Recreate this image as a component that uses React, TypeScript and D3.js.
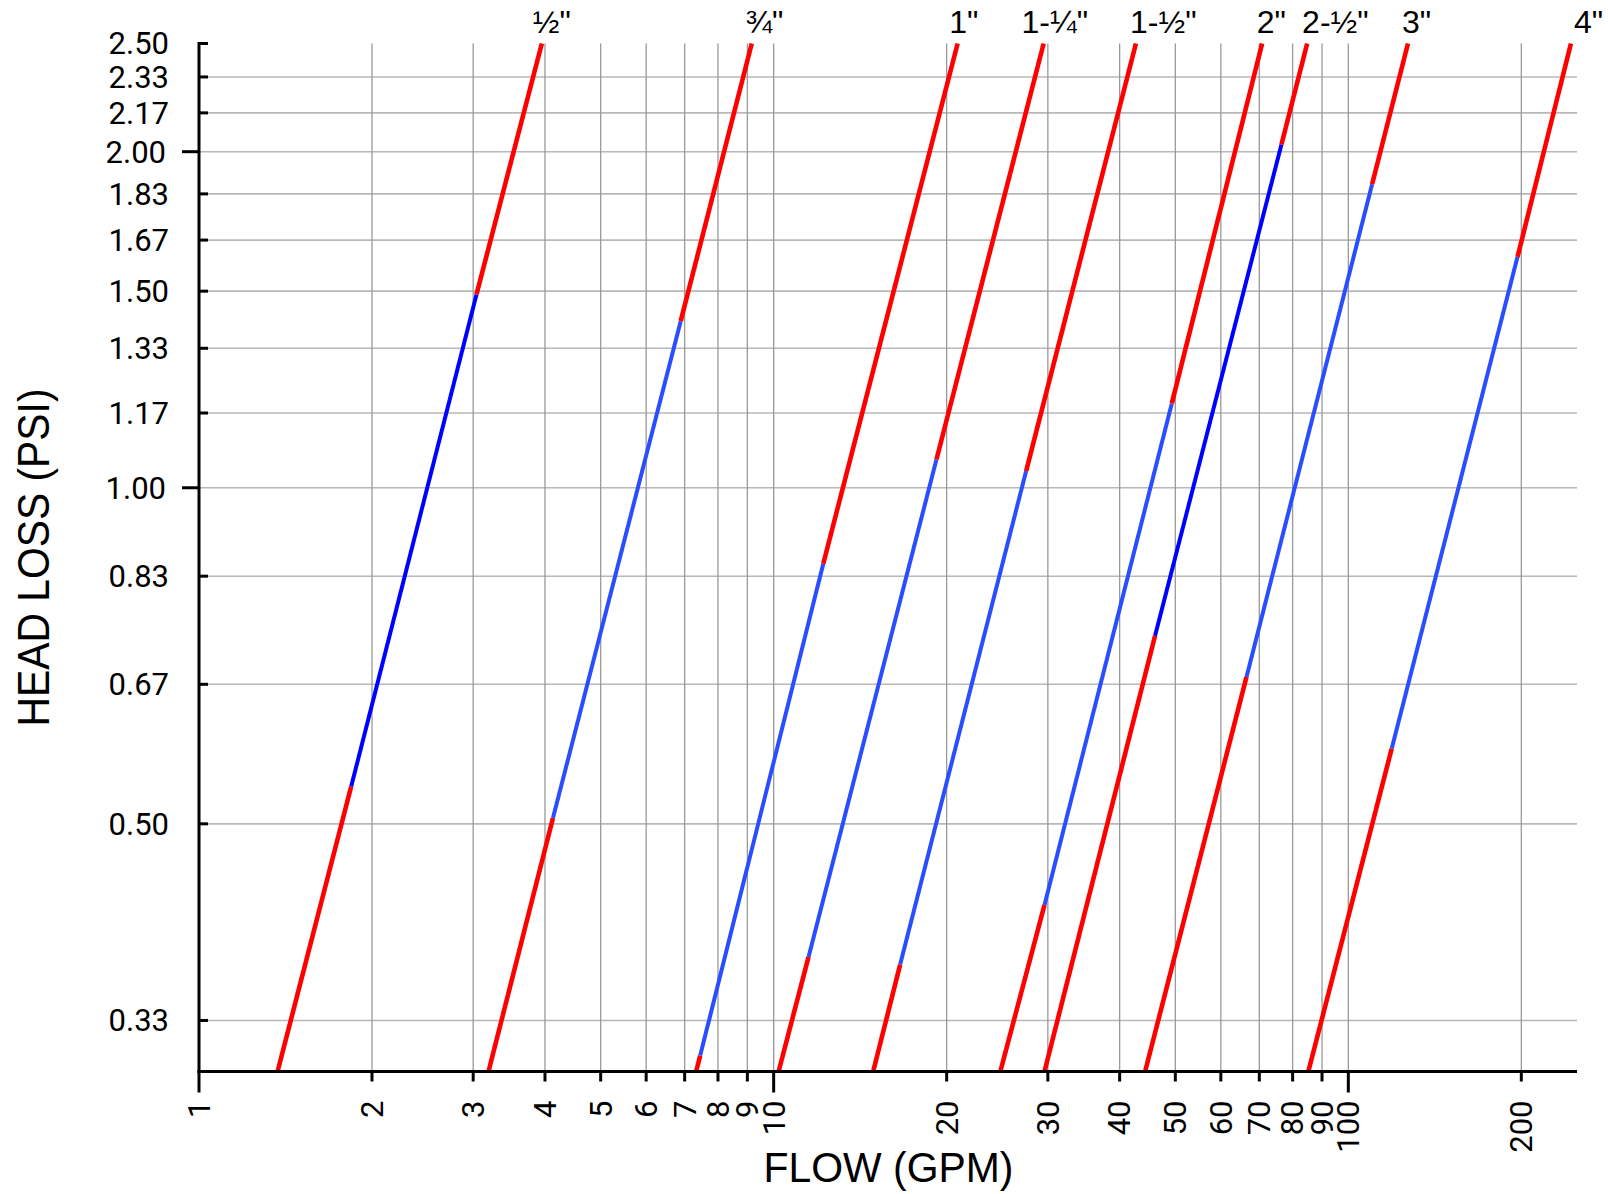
import React from "react";
import * as d3 from "d3";

const pipeSizes = ['½"', '¾"', '1"', '1-¼"', '1-½"', '2"', '2-½"', '3"', '4"'];

// Breakpoints along each pipe line: [flow GPM, head loss PSI]
const pipeHalf = [[1.37, 0.3], [1.84, 0.54], [3.04, 1.49], [3.95, 2.5]];
const pipeThreeQuarter = [[3.19, 0.3], [4.13, 0.506], [6.89, 1.41], [9.16, 2.5]];
const pipeOne = [[7.33, 0.3], [7.45, 0.31], [12.2, 0.855], [20.9, 2.5]];
const pipeOneQuarter = [[10.2, 0.3], [11.5, 0.38], [19.2, 1.06], [29.5, 2.5]];
const pipeOneHalf = [[14.9, 0.3], [16.6, 0.374], [27.5, 1.035], [42.7, 2.5]];
const pipeTwo = [[24.8, 0.3], [29.6, 0.423], [49.3, 1.19], [70.8, 2.5]];
const pipeTwoHalf = [[29.6, 0.3], [46.1, 0.737], [76.5, 2.03], [84.8, 2.5]];
const pipeThree = [[44.3, 0.3], [66.5, 0.677], [110, 1.87], [127, 2.5]];
const pipeFour = [[85.2, 0.3], [119, 0.584], [197, 1.61], [244, 2.5]];

// Segment zones between breakpoints: 0 = red, 1 = blue
const segmentZones = [0, 1, 0];
// which blue shade each pipe uses
const blueShade = [0, 1, 1, 1, 1, 1, 0, 1, 1];

// flow where each pipe label starts
const labelFlow = [3.81, 8.93, 20.2, 27.0, 41.7, 69.3, 83.1, 124, 247];

const xTicks = [1, 2, 3, 4, 5, 6, 7, 8, 9, 10, 20, 30, 40, 50, 60, 70, 80, 90, 100, 200];
const xMajor = [1, 10, 100];
const yTicks = [0.3333, 0.5, 0.6667, 0.8333, 1, 1.1667, 1.3333, 1.5, 1.6667, 1.8333, 2, 2.1667, 2.3333, 2.5];
const yTickLabels = ["0.33", "0.50", "0.67", "0.83", "1.00", "1.17", "1.33", "1.50", "1.67", "1.83", "2.00", "2.17", "2.33", "2.50"];
const yMajor = [1, 2];

const pipes = [pipeHalf, pipeThreeQuarter, pipeOne, pipeOneQuarter, pipeOneHalf, pipeTwo, pipeTwoHalf, pipeThree, pipeFour];

const W = 1608;
const H = 1194;
const L = 199, R = 1577, T = 43.5, B = 1071.5;

export default function App() {
  const x = d3.scaleLog().domain([1, 250]).range([L, R]);
  const y = d3.scaleLog().domain([0.3, 2.5]).range([B, T]);
  const line = d3.line<number[]>().x((d) => x(d[0])).y((d) => y(d[1]));
  const red = "#ff0000";
  const blues = ["#0000ff", "#2a4dff"];
  const tickFont = "Roboto, 'Noto Sans', sans-serif";
  const labelFont = "'Liberation Sans', Arial, sans-serif";

  return (
    <svg width={W} height={H} style={{ position: "absolute", left: 0, top: 0, background: "#fff" }}>
      {/* grid */}
      <g>
        {yTicks.filter((v) => v < 2.4).map((v, i) => (
          <line key={"hy" + i} x1={L} x2={R} y1={y(v)} y2={y(v)} stroke="#b8b8b8" strokeWidth={1.6} />
        ))}
        {xTicks.filter((v) => v > 1).map((v, i) => (
          <line key={"vx" + i} x1={x(v)} x2={x(v)} y1={T} y2={B} stroke="#999" strokeWidth={1.3} />
        ))}
      </g>
      {/* pipe lines */}
      <g>
        {pipes.map((pts, pi) =>
          segmentZones.map((z, si) => (
            <path
              key={pi + "-" + si}
              d={line([pts[si], pts[si + 1]]) || ""}
              fill="none"
              stroke={z === 0 ? red : blues[blueShade[pi]]}
              strokeWidth={z === 0 ? 4.6 : 4}
            />
          ))
        )}
      </g>
      {/* pipe labels */}
      <g fontFamily={labelFont} fontSize={32} fill="#000">
        {pipeSizes.map((s, i) => (
          <text key={s} x={x(labelFlow[i])} y={33}>
            {s}
          </text>
        ))}
      </g>
      {/* y axis */}
      <g>
        <line x1={L} x2={L} y1={T - 1.5} y2={B + 1.5} stroke="#000" strokeWidth={3} />
        {yTicks.map((v, i) => {
          const major = yMajor.includes(v);
          return (
            <g key={"yt" + i}>
              <line
                x1={major ? L - 17 : L}
                x2={major ? L : L + 9}
                y1={y(v)}
                y2={y(v)}
                stroke="#000"
                strokeWidth={3}
              />
              <text
                x={major ? L - 33 : L - 30}
                y={y(v)}
                dy="0.35em"
                textAnchor="end"
                fontFamily={tickFont}
                fontSize={31}
              >
                {yTickLabels[i]}
              </text>
            </g>
          );
        })}
      </g>
      {/* x axis */}
      <g>
        <line x1={L - 1.5} x2={R} y1={B} y2={B} stroke="#000" strokeWidth={3} />
        {xTicks.map((v, i) => {
          const major = xMajor.includes(v);
          return (
            <g key={"xt" + i}>
              <line x1={x(v)} x2={x(v)} y1={B} y2={B + (major ? 21 : 10)} stroke="#000" strokeWidth={3} />
              <text
                transform={`translate(${x(v)},${B + 29}) rotate(-90)`}
                dy="0.35em"
                textAnchor="end"
                fontFamily={tickFont}
                fontSize={31}
              >
                {v}
              </text>
            </g>
          );
        })}
      </g>
      {/* axis titles */}
      <text
        x={(764 + 1013) / 2}
        y={1182}
        textAnchor="middle"
        fontFamily="'Liberation Sans', Arial, sans-serif"
        fontSize={43}
        textLength={250}
        lengthAdjust="spacingAndGlyphs"
      >
        FLOW (GPM)
      </text>
      <text
        transform={`translate(49,${(390 + 725) / 2}) rotate(-90)`}
        textAnchor="middle"
        fontFamily="'Liberation Sans', Arial, sans-serif"
        fontSize={44}
        textLength={338}
        lengthAdjust="spacingAndGlyphs"
      >
        HEAD LOSS (PSI)
      </text>
    </svg>
  );
}
